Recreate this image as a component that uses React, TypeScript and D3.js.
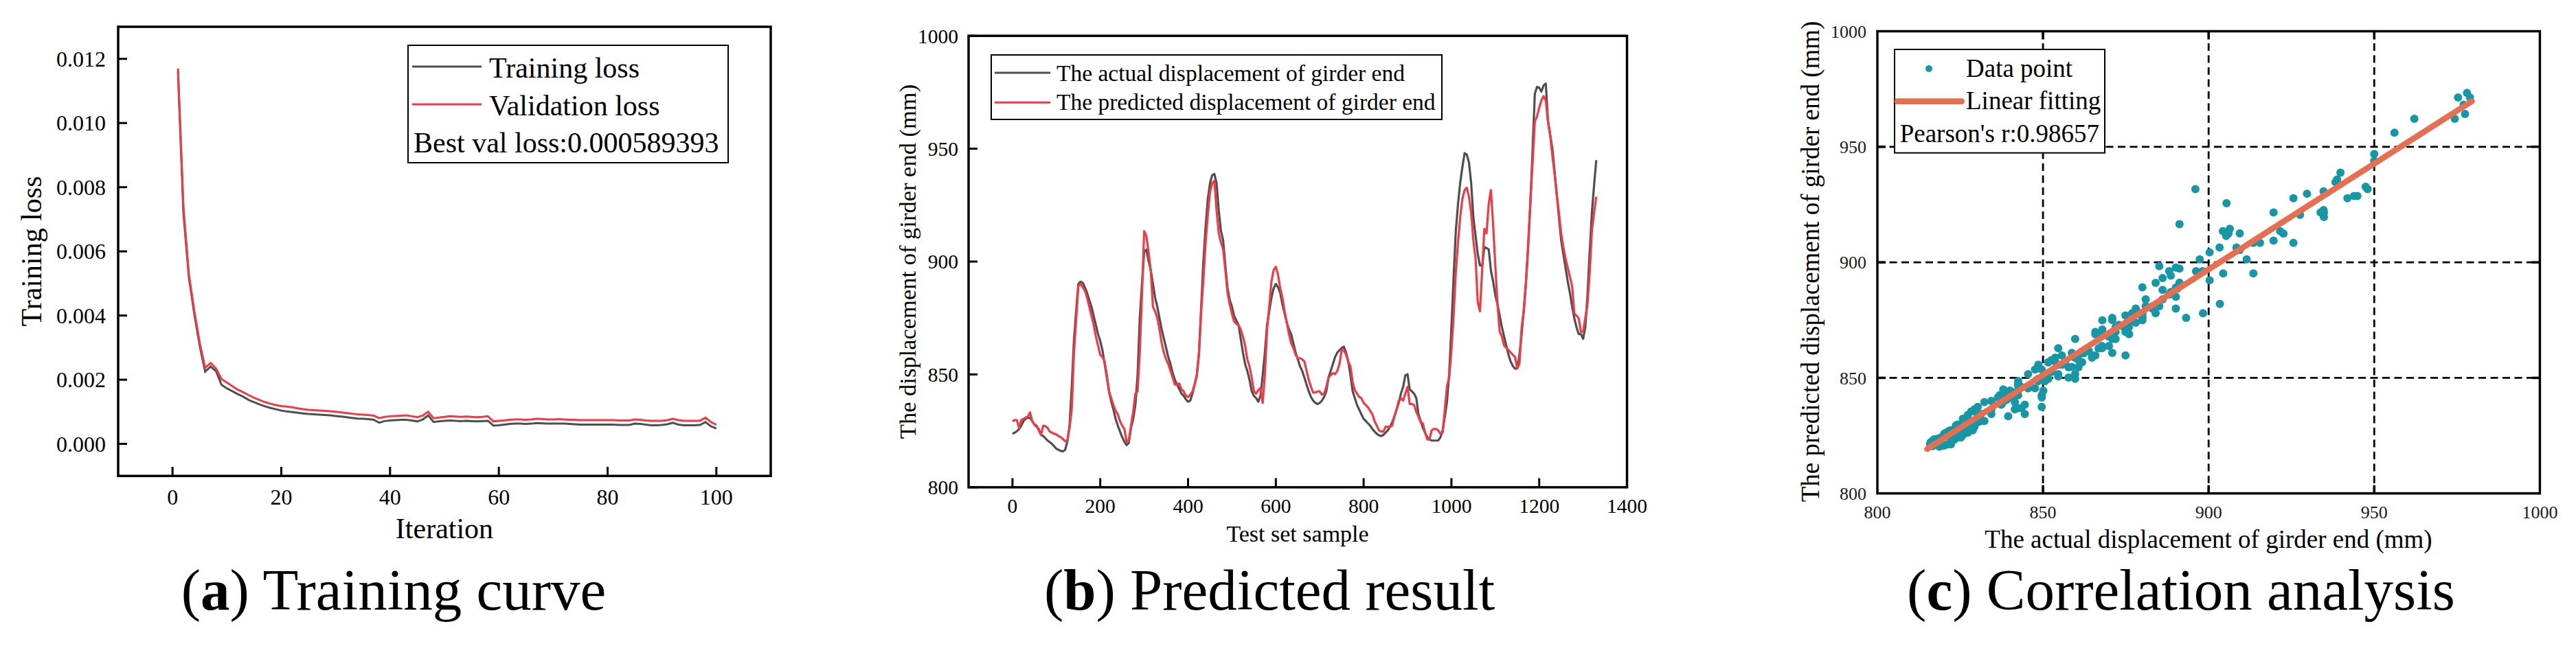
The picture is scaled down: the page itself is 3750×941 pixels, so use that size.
import React from 'react';
import * as d3 from 'd3';

const FONT = '"Liberation Serif", "Times New Roman", serif';

// (a) training curve, loss values in units of 1e-3
const iterations = d3.range(1, 101);
const trainLoss = [
  11.6, 7.2, 5.2, 4.05, 3.05, 2.25, 2.41, 2.27, 1.84, 1.73,
  1.64, 1.55, 1.47, 1.37, 1.3, 1.23, 1.17, 1.12, 1.08, 1.04,
  1.01, 0.99, 0.97, 0.95, 0.93, 0.92, 0.91, 0.9, 0.89, 0.87,
  0.85, 0.83, 0.81, 0.79, 0.78, 0.77, 0.75, 0.66, 0.71, 0.73,
  0.74, 0.75, 0.75, 0.73, 0.7, 0.76, 0.89, 0.68, 0.7, 0.72,
  0.73, 0.72, 0.71, 0.72, 0.71, 0.7, 0.71, 0.72, 0.57, 0.58,
  0.6, 0.62, 0.63, 0.63, 0.62, 0.63, 0.65, 0.64, 0.63, 0.63,
  0.63, 0.63, 0.62, 0.61, 0.6, 0.6, 0.6, 0.6, 0.6, 0.6,
  0.6, 0.59, 0.59, 0.59, 0.63, 0.62, 0.6, 0.58, 0.58, 0.59,
  0.61, 0.66, 0.6, 0.58, 0.58, 0.58, 0.59, 0.68, 0.55, 0.48,
];
const valLoss = [
  11.7, 7.4, 5.3, 4.15, 3.15, 2.37, 2.52, 2.35, 2.02, 1.91,
  1.8, 1.69, 1.61, 1.52, 1.44, 1.37, 1.3, 1.25, 1.21, 1.18,
  1.16, 1.14, 1.11, 1.08, 1.06, 1.05, 1.04, 1.03, 1.02, 1.0,
  0.98, 0.96, 0.94, 0.92, 0.91, 0.9, 0.88, 0.8, 0.84, 0.86,
  0.87, 0.88, 0.89, 0.86, 0.83, 0.88, 1.0, 0.8, 0.82, 0.84,
  0.86, 0.85, 0.84, 0.85, 0.84, 0.83, 0.84, 0.86, 0.7, 0.72,
  0.73, 0.75, 0.76, 0.76, 0.75, 0.76, 0.78, 0.77, 0.76, 0.76,
  0.77, 0.76, 0.75, 0.75, 0.74, 0.74, 0.74, 0.74, 0.74, 0.74,
  0.74, 0.73, 0.73, 0.73, 0.76, 0.75, 0.73, 0.72, 0.72, 0.72,
  0.74, 0.78, 0.74, 0.72, 0.72, 0.72, 0.72, 0.82, 0.68, 0.6,
];
const lossTicks = [0, 2, 4, 6, 8, 10, 12];
const iterTicks = [0, 20, 40, 60, 80, 100];

// (b) test set, every 5th sample
const samples = d3.range(0, 1331, 5);
const actualDisp = [
  823.7, 824.2, 824.8, 825.8, 827.3, 829.3, 830.3, 830.8, 830.8, 829.3,
  827.8, 826.8, 825.8, 823.2, 822.7, 821.7, 820.7, 820.0, 819.2, 818.2,
  817.1, 816.6, 816.1, 815.9, 816.6, 820.2, 827.3, 844.5, 864.8, 878.0,
  890.1, 891.1, 890.6, 888.6, 886.1, 883.0, 880.0, 875.9, 871.9, 867.8,
  864.8, 860.7, 854.6, 848.6, 842.5, 837.9, 834.4, 830.3, 827.3, 824.7,
  822.2, 820.2, 818.7, 819.7, 826.3, 830.3, 836.4, 849.6, 874.9, 890.1,
  904.3, 905.3, 900.3, 896.2, 890.1, 884.0, 880.0, 874.9, 869.9, 865.8,
  861.8, 857.7, 854.6, 850.6, 847.6, 845.5, 843.5, 841.5, 840.5, 839.0,
  837.9, 838.4, 841.5, 845.5, 849.6, 859.7, 880.0, 900.3, 915.5, 927.6,
  934.7, 938.3, 938.8, 934.7, 922.6, 913.5, 909.4, 898.2, 888.1, 883.0,
  880.0, 875.9, 873.9, 871.9, 865.8, 859.7, 854.6, 851.6, 847.6, 842.5,
  840.5, 839.5, 837.9, 840.5, 849.6, 859.7, 871.9, 878.0, 884.0, 888.1,
  890.1, 888.6, 886.1, 881.0, 876.9, 872.9, 869.9, 867.8, 863.8, 859.7,
  856.7, 853.6, 851.6, 848.6, 845.5, 842.5, 840.0, 838.4, 837.4, 836.9,
  837.4, 838.4, 840.0, 842.5, 848.6, 851.6, 854.6, 857.7, 859.7, 860.7,
  861.7, 862.3, 859.7, 855.7, 849.6, 842.5, 839.5, 836.4, 834.4, 832.3,
  830.3, 829.3, 828.3, 827.3, 825.8, 824.7, 823.7, 823.0, 822.7, 823.2,
  824.2, 825.2, 826.8, 828.8, 831.3, 834.4, 837.4, 841.5, 844.5, 849.6,
  850.1, 843.5, 842.5, 841.5, 839.5, 832.3, 829.3, 826.3, 824.2, 822.2,
  821.2, 820.7, 820.7, 820.7, 820.7, 822.2, 825.2, 831.3, 838.0, 850.6,
  870.9, 893.2, 913.5, 925.6, 934.8, 941.9, 948.0, 947.4, 943.9, 934.8,
  919.6, 911.5, 903.4, 898.3, 898.0, 906.4, 906.0, 905.4, 896.0, 891.2,
  885.1, 881.0, 876.0, 870.9, 866.8, 862.8, 858.7, 855.7, 853.7, 852.6,
  852.6, 858.7, 867.9, 879.0, 891.2, 908.4, 925.6, 950.0, 974.3, 977.4,
  977.0, 975.3, 978.0, 978.9, 962.1, 956.1, 950.0, 939.8, 929.7, 919.6,
  909.4, 903.3, 897.3, 891.2, 886.1, 880.0, 874.9, 870.9, 867.9, 867.9,
  865.8, 870.9, 885.1, 904.4, 921.6, 933.8, 944.9,
];
const predictedDisp = [
  829.3, 829.8, 829.8, 826.3, 829.8, 830.3, 830.8, 831.3, 833.2, 829.3,
  827.8, 827.3, 825.2, 823.2, 827.3, 827.1, 826.3, 824.7, 824.2, 823.7,
  823.4, 822.7, 822.2, 821.4, 820.4, 820.7, 826.3, 834.4, 859.7, 873.9,
  889.1, 890.1, 888.6, 887.1, 884.0, 880.0, 875.9, 871.9, 866.8, 862.8,
  858.7, 857.7, 855.7, 849.6, 842.5, 839.4, 836.4, 833.9, 832.3, 829.3,
  827.3, 825.8, 820.2, 820.7, 827.3, 833.4, 841.5, 842.5, 859.7, 885.1,
  913.5, 911.4, 904.3, 896.2, 880.0, 878.0, 874.9, 869.9, 863.8, 859.7,
  856.7, 854.6, 851.6, 848.6, 845.5, 845.5, 846.0, 843.5, 842.5, 840.5,
  840.0, 841.0, 842.5, 845.5, 849.6, 859.7, 878.0, 892.2, 908.4, 920.5,
  930.7, 934.7, 935.8, 922.6, 912.4, 908.4, 905.4, 896.2, 886.1, 881.0,
  876.9, 873.4, 872.4, 871.9, 869.9, 866.8, 862.8, 856.7, 853.6, 848.6,
  842.5, 841.5, 843.0, 844.0, 837.4, 849.6, 869.9, 880.0, 891.1, 896.2,
  897.7, 894.2, 888.1, 884.0, 878.0, 872.9, 867.8, 863.8, 861.7, 858.7,
  857.2, 857.2, 856.7, 855.7, 851.6, 847.6, 844.5, 842.0, 842.0, 842.5,
  842.5, 841.0, 841.5, 844.5, 848.6, 849.6, 850.6, 850.1, 851.6, 854.6,
  860.7, 860.7, 858.7, 855.7, 853.6, 846.6, 843.0, 841.5, 840.0, 839.5,
  837.4, 836.4, 835.4, 833.9, 832.3, 829.3, 827.3, 825.2, 824.7, 824.7,
  826.8, 826.8, 826.8, 827.3, 831.3, 834.4, 838.4, 839.4, 838.4, 841.5,
  844.5, 836.9, 836.9, 836.4, 833.4, 831.3, 828.8, 828.3, 824.2, 821.2,
  821.2, 825.2, 825.8, 825.8, 825.2, 823.7, 824.2, 834.4, 845.0, 848.6,
  860.8, 876.0, 895.2, 908.4, 919.6, 927.7, 931.7, 932.7, 928.7, 921.6,
  909.4, 901.3, 882.0, 878.0, 896.0, 914.5, 912.5, 925.6, 931.7, 916.5,
  898.3, 881.0, 868.9, 866.8, 862.8, 861.8, 860.8, 859.7, 858.7, 857.7,
  852.6, 854.7, 870.9, 878.0, 891.2, 906.4, 927.7, 943.9, 962.1, 964.2,
  968.2, 971.3, 973.3, 971.3, 962.1, 956.1, 946.9, 938.8, 929.7, 921.6,
  912.5, 906.4, 901.3, 897.3, 893.2, 889.2, 877.0, 876.0, 874.9, 868.9,
  868.9, 875.0, 881.0, 895.2, 913.5, 921.6, 928.7,
];
const sampleTicks = [0, 200, 400, 600, 800, 1000, 1200, 1400];
const dispTicks = [800, 850, 900, 950, 1000];

// (c) correlation
const fitActual = [815, 979.5];
const fitPredicted = [819.2, 969.7];
const gridTicks = [850, 900, 950];
const corrTicks = [800, 850, 900, 950, 1000];

const GRAY = '#4f4f4f';
const RED = '#ee3b44';
const TEAL = '#1797a6';
const CORAL = '#e76f51';

function TrainingPanel() {
  const x = d3.scaleLinear().domain([-10, 110]).range([172, 1122]);
  const y = d3.scaleLinear().domain([-1, 13]).range([693.3, 39]);
  const line = d3.line<number>().x((_, i) => x(iterations[i])).y(d => y(d));
  return (
    <g>
      <path d={line(trainLoss) || ''} fill="none" stroke={GRAY} strokeWidth={3} />
      <path d={line(valLoss) || ''} fill="none" stroke={RED} strokeWidth={3} />
      <rect x={172} y={39} width={950} height={654.3} fill="none" stroke="#000" strokeWidth={3.5} />
      {lossTicks.map(t => (
        <g key={t}>
          <line x1={172} x2={185} y1={y(t)} y2={y(t)} stroke="#000" strokeWidth={3} />
          <text x={154} y={y(t)} dy="0.35em" textAnchor="end" fontSize={32}>
            {(t / 1000).toFixed(3)}
          </text>
        </g>
      ))}
      {iterTicks.map(t => (
        <g key={t}>
          <line x1={x(t)} x2={x(t)} y1={693.3} y2={680} stroke="#000" strokeWidth={3} />
          <text x={x(t)} y={735} textAnchor="middle" fontSize={32}>{t}</text>
        </g>
      ))}
      <text x={647} y={784} textAnchor="middle" fontSize={42}>Iteration</text>
      <text transform="translate(60,366) rotate(-90)" textAnchor="middle" fontSize={42}>Training loss</text>
      <rect x={594} y={66} width={466} height={171} fill="#fff" stroke="#000" strokeWidth={2} />
      <line x1={600} x2={701} y1={97} y2={97} stroke={GRAY} strokeWidth={3} />
      <line x1={600} x2={701} y1={152} y2={152} stroke={RED} strokeWidth={3} />
      <text x={712} y={113} fontSize={42}>Training loss</text>
      <text x={712} y={168} fontSize={42}>Validation loss</text>
      <text x={602} y={222} fontSize={42}>Best val loss:0.000589393</text>
    </g>
  );
}

function PredictionPanel() {
  const x = d3.scaleLinear().domain([-100, 1400]).range([1410, 2368.5]);
  const y = d3.scaleLinear().domain([800, 1000]).range([709.8, 52.2]);
  const line = d3.line<number>().x((_, i) => x(samples[i])).y(d => y(d));
  return (
    <g>
      <path d={line(actualDisp) || ''} fill="none" stroke={GRAY} strokeWidth={3.2} strokeLinejoin="round" />
      <path d={line(predictedDisp) || ''} fill="none" stroke={RED} strokeWidth={3.2} strokeLinejoin="round" />
      <rect x={1410} y={52.2} width={958.5} height={657.6} fill="none" stroke="#000" strokeWidth={3.5} />
      {dispTicks.map(t => (
        <g key={t}>
          <line x1={1410} x2={1423} y1={y(t)} y2={y(t)} stroke="#000" strokeWidth={3} />
          <text x={1395} y={y(t)} dy="0.35em" textAnchor="end" fontSize={29.5}>{t}</text>
        </g>
      ))}
      {sampleTicks.map(t => (
        <g key={t}>
          <line x1={x(t)} x2={x(t)} y1={709.8} y2={696.5} stroke="#000" strokeWidth={3} />
          <text x={x(t)} y={747} textAnchor="middle" fontSize={29.5}>{t}</text>
        </g>
      ))}
      <text x={1889} y={789} textAnchor="middle" fontSize={34}>Test set sample</text>
      <text transform="translate(1333,381) rotate(-90)" textAnchor="middle" fontSize={34.5}>
        The displacement of girder end (mm)
      </text>
      <rect x={1443} y={80} width={656} height={94} fill="#fff" stroke="#000" strokeWidth={2} />
      <line x1={1448} x2={1529} y1={106} y2={106} stroke={GRAY} strokeWidth={3} />
      <line x1={1448} x2={1529} y1={149.3} y2={149.3} stroke={RED} strokeWidth={3} />
      <text x={1538} y={117.7} fontSize={33.5}>The actual displacement of girder end</text>
      <text x={1538} y={160} fontSize={33.5}>The predicted displacement of girder end</text>
    </g>
  );
}

function CorrelationPanel() {
  const x = d3.scaleLinear().domain([800, 1000]).range([2733, 3697.4]);
  const y = d3.scaleLinear().domain([800, 1000]).range([718.7, 45.5]);
  const points = samples.map((_, i) => [actualDisp[i], predictedDisp[i]]);
  const [x0, x1] = x.range();
  const [y0, y1] = y.range();
  return (
    <g>
      {gridTicks.map(t => (
        <g key={t} stroke="#000" strokeWidth={2.8} strokeDasharray="11,6.5">
          <line x1={x(t)} x2={x(t)} y1={y1} y2={y0} />
          <line x1={x0} x2={x1} y1={y(t)} y2={y(t)} />
        </g>
      ))}
      {points.map((p, i) => (
        <circle key={i} cx={x(p[0])} cy={y(p[1])} r={6} fill={TEAL} />
      ))}
      <line
        x1={x(fitActual[0])} y1={y(fitPredicted[0])}
        x2={x(fitActual[1])} y2={y(fitPredicted[1])}
        stroke={CORAL} strokeWidth={8.5} strokeLinecap="round"
      />
      <rect x={x0} y={y1} width={x1 - x0} height={y0 - y1} fill="none" stroke="#000" strokeWidth={3.5} />
      {gridTicks.map(t => (
        <g key={t} stroke="#000" strokeWidth={3.5}>
          <line x1={x0} x2={x0 + 12} y1={y(t)} y2={y(t)} />
          <line x1={x1} x2={x1 - 12} y1={y(t)} y2={y(t)} />
          <line x1={x(t)} x2={x(t)} y1={y0} y2={y0 - 12} />
          <line x1={x(t)} x2={x(t)} y1={y1} y2={y1 + 12} />
        </g>
      ))}
      {corrTicks.map(t => (
        <g key={t} fill="#1a1a1a">
          <text x={2717} y={y(t)} dy="0.35em" textAnchor="end" fontSize={26}>{t}</text>
          <text x={x(t)} y={755} textAnchor="middle" fontSize={26}>{t}</text>
        </g>
      ))}
      <text x={3215} y={798} textAnchor="middle" fontSize={37}>
        The actual displacement of girder end (mm)
      </text>
      <text transform="translate(2648,381) rotate(-90)" textAnchor="middle" fontSize={37}>
        The predicted displacement of girder end (mm)
      </text>
      <rect x={2758} y={72} width={306} height={150.7} fill="#fff" stroke="#000" strokeWidth={2} />
      <circle cx={2808} cy={100} r={5} fill={TEAL} />
      <line x1={2762} x2={2855.7} y1={147.7} y2={147.7} stroke={CORAL} strokeWidth={8.7} strokeLinecap="round" />
      <text x={2862} y={111.7} fontSize={37}>Data point</text>
      <text x={2862} y={159.3} fontSize={37}>Linear fitting</text>
      <text x={2765.7} y={206.7} fontSize={37}>Pearson's r:0.98657</text>
    </g>
  );
}

function Caption({ x, letter, label }: { x: number; letter: string; label: string }) {
  return (
    <text x={x} y={888} textAnchor="middle" fontSize={85}>
      {'('}
      <tspan fontWeight="bold">{letter}</tspan>
      {') ' + label}
    </text>
  );
}

export default function App() {
  return (
    <div>
      <style>{'body{margin:0;background:#fff}'}</style>
      <svg width={3750} height={941} style={{ display: 'block', fontFamily: FONT }}>
        <rect width={3750} height={941} fill="#fff" />
        <TrainingPanel />
        <PredictionPanel />
        <CorrelationPanel />
        <Caption x={573} letter="a" label="Training curve" />
        <Caption x={1848} letter="b" label="Predicted result" />
        <Caption x={3175} letter="c" label="Correlation analysis" />
      </svg>
    </div>
  );
}
